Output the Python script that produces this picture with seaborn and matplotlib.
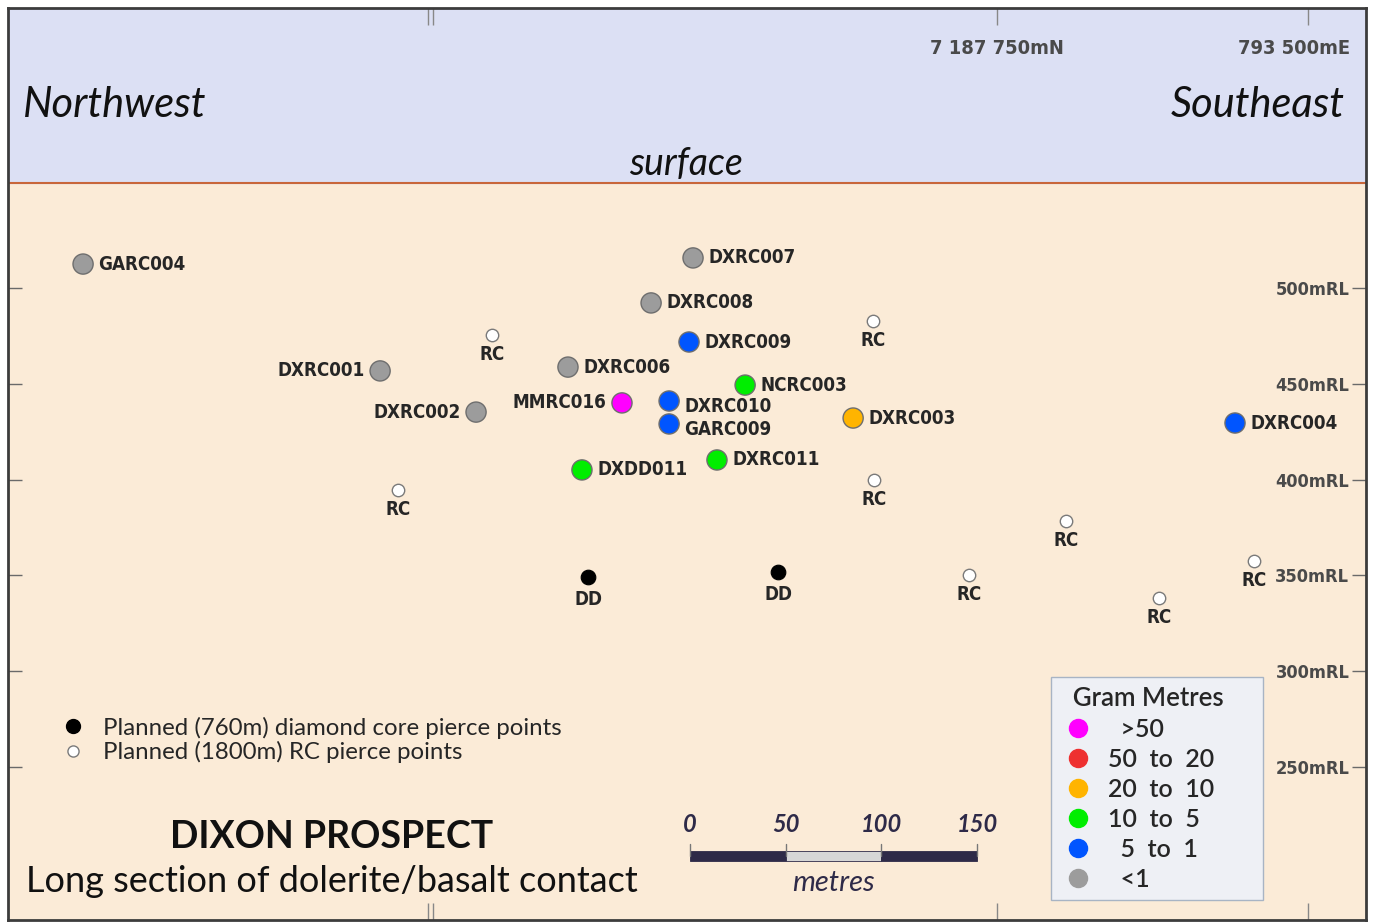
import numpy as np
import pandas as pd
import seaborn as sns
import matplotlib.pyplot as plt
from matplotlib import font_manager
from matplotlib.lines import Line2D

# Drill holes with assay results (metres along section, mRL)
hole_ids = ["GARC004", "DXRC007", "DXRC008", "DXRC009", "DXRC001", "DXRC006",
            "NCRC003", "MMRC016", "DXRC002", "DXRC010", "GARC009", "DXRC003",
            "DXRC004", "DXDD011", "DXRC011"]
hole_x = [39.2, 357.7, 335.8, 355.6, 194.3, 292.4,
          384.9, 320.6, 244.4, 345.2, 345.2, 441.3,
          640.7, 299.7, 370.2]
hole_rl = [512.5, 515.7, 492.2, 471.8, 456.7, 458.7,
           449.3, 440.0, 435.2, 441.0, 429.0, 432.1,
           429.5, 405.0, 410.2]
hole_grade = ["<1", "<1", "<1", "5 to 1", "<1", "<1",
              "10 to 5", ">50", "<1", "5 to 1", "5 to 1", "20 to 10",
              "5 to 1", "10 to 5", "10 to 5"]
left_labels = ["DXRC001", "DXRC002", "MMRC016"]

# Planned pierce points
rc_x = [252.7, 451.7, 203.7, 452.2, 552.5, 501.8, 601.0, 650.7]
rc_rl = [475.5, 482.8, 394.5, 399.7, 378.3, 350.1, 338.1, 357.4]
dd_x = [302.9, 402.1]
dd_rl = [349.1, 351.7]

# Gram metre classes
grade_classes = [">50", "50 to 20", "20 to 10", "10 to 5", "5 to 1", "<1"]
grade_text = ["  >50", "50  to  20", "20  to  10", "10  to  5", "  5  to  1", "  <1"]
grade_colors = ["#ff00ff", "#ee3030", "#ffb400", "#00ee00", "#0055ff", "#9c9c9c"]

rl_ticks = [250, 300, 350, 400, 450, 500]
grid_x = [219.3, 221.9, 516.4, 678.9]
surface_rl = 554.8
scale_steps = [0, 50, 100, 150]

sns.set_theme(style="white")
plt.rcParams["font.family"] = ["Lato", "DejaVu Sans"]

# Pick a narrow face for the hole labels if one is installed
fonts = font_manager.fontManager.ttflist
names = {f.name for f in fonts}
narrow = {"family": "Liberation Sans", "stretch": "normal"}
nscale = 0.83
if "Liberation Sans Narrow" in names:
    narrow = {"family": "Liberation Sans Narrow", "stretch": "normal"}
    nscale = 1.0
elif any(f.name == "DejaVu Sans" and f.stretch == "condensed" for f in fonts):
    narrow = {"family": "DejaVu Sans", "stretch": "condensed"}
    nscale = 0.9
else:
    cands = sorted(n for n in names if "Narrow" in n or "Condensed" in n)
    if cands:
        narrow = {"family": cands[0], "stretch": "normal"}
        nscale = 0.95

fig = plt.figure(figsize=(13.74, 9.23), dpi=100)
ax = fig.add_axes([8 / 1374, 3 / 923, 1358 / 1374, 912 / 923])
ax.set_xlim(0, 709.1)
ax.set_ylim(170, 646.2)
ax.set_facecolor("#fbebd7")

# Sky and surface
ax.axhspan(surface_rl, 646.2, color="#dce0f4", zorder=0)
ax.axhline(surface_rl, color="#c8663a", lw=1.5, zorder=1)

holes = pd.DataFrame({"hole": hole_ids, "x": hole_x, "rl": hole_rl,
                      "grade": hole_grade})
palette = dict(zip(grade_classes, grade_colors))
label_dy = {"DXRC010": -4, "GARC009": -4}

sns.scatterplot(data=holes, x="x", y="rl", hue="grade", palette=palette,
                s=210, edgecolor="#6e6e6e", linewidth=1, legend=False,
                ax=ax, zorder=4)
for _, r in holes.iterrows():
    left = r["hole"] in left_labels
    ax.annotate(r["hole"], (r["x"], r["rl"]),
                xytext=(-11 if left else 11, label_dy.get(r["hole"], 0)),
                textcoords="offset points", ha="right" if left else "left",
                va="center", fontsize=15 * nscale, fontweight="bold",
                **narrow)

sns.scatterplot(x=rc_x, y=rc_rl, s=80, color="white", edgecolor="#7a7a7a",
                linewidth=1, ax=ax, zorder=4)
for x, y in zip(rc_x, rc_rl):
    ax.annotate("RC", (x, y), xytext=(0, -14), textcoords="offset points",
                ha="center", va="center", fontsize=15 * nscale,
                fontweight="bold", **narrow)

sns.scatterplot(x=dd_x, y=dd_rl, s=110, color="black", edgecolor="black",
                ax=ax, zorder=4)
for x, y in zip(dd_x, dd_rl):
    ax.annotate("DD", (x, y), xytext=(0, -16), textcoords="offset points",
                ha="center", va="center", fontsize=15 * nscale,
                fontweight="bold", **narrow)

# Axes frame and ticks
for sp in ax.spines.values():
    sp.set_color("#3c3c3c")
    sp.set_linewidth(2)
ax.set_yticks(rl_ticks)
ax.set_yticklabels([f"{v}mRL" for v in rl_ticks])
ax.tick_params(axis="y", left=True, right=True, direction="in", length=10,
               width=1, color="#6a6a6a", labelleft=False, labelright=True,
               pad=-12, labelsize=14.5 * nscale, labelcolor="#4a4a4a")
for t in ax.yaxis.get_major_ticks():
    t.label2.set_ha("right")
    t.label2.set_family(narrow["family"])
    t.label2.set_stretch(narrow["stretch"])
    t.label2.set_fontweight("bold")
ax.set_xticks(grid_x)
ax.tick_params(axis="x", top=True, bottom=True, direction="in", length=12,
               width=1, color="#888888", labelbottom=False, labeltop=False)
ax.set_xlabel("")
ax.set_ylabel("")

# Grid coordinates
ax.text(516.4, 625.3, "7 187 750mN", ha="center", va="center",
        fontsize=16 * nscale, fontweight="bold", color="#4a4a4a", **narrow)
ax.text(701, 625.3, "793 500mE", ha="right", va="center",
        fontsize=16 * nscale, fontweight="bold", color="#4a4a4a", **narrow)

ax.text(8, 595.5, "Northwest", ha="left", va="center", fontsize=30,
        style="italic", color="#111111")
ax.text(698, 595.5, "Southeast", ha="right", va="center", fontsize=30,
        style="italic", color="#111111")
ax.text(354, 565, "surface", ha="center", va="center", fontsize=27,
        style="italic", color="#111111")

# Titles
ax.text(169, 213.5, "DIXON PROSPECT", ha="center", va="center", fontsize=27,
        fontweight="bold", color="#111111")
ax.text(169, 190, "Long section of dolerite/basalt contact", ha="center",
        va="center", fontsize=26, color="#111111")

# Scale bar
bar_left = 356.1
dark = "#2e2a48"
ax.barh([203.4] * 3, [50, 50, 50],
        left=[bar_left + v for v in scale_steps[:-1]], height=5.2,
        color=[dark, "#d6d6d6", dark], edgecolor=dark, linewidth=0.6,
        zorder=3)
for v in scale_steps:
    ax.plot([bar_left + v, bar_left + v], [203.4, 209.5], color="#777777",
            lw=1, zorder=3)
    ax.text(bar_left + v, 220, str(v), ha="center", va="center",
            fontsize=17, fontweight="bold", style="italic", color=dark)
ax.text(bar_left + 75, 189.5, "metres", ha="center", va="center",
        fontsize=21, style="italic", color=dark)

# Pierce point legend
plan_handles = [
    Line2D([], [], marker="o", ls="", markersize=10, color="black"),
    Line2D([], [], marker="o", ls="", markersize=8, markerfacecolor="white",
           markeredgecolor="#7a7a7a"),
]
leg1 = ax.legend(plan_handles,
                 ["Planned (760m) diamond core pierce points",
                  "Planned (1800m) RC pierce points"],
                 loc="upper left", bbox_to_anchor=(0.039, 0.223),
                 frameon=False, fontsize=17.3, handletextpad=0.75,
                 handlelength=1.0, labelspacing=0.1, borderaxespad=0,
                 borderpad=0)
ax.add_artist(leg1)

# Gram metres legend
grade_handles = [Line2D([], [], marker="o", ls="", markersize=13,
                        markerfacecolor=c, markeredgecolor=c)
                 for c in grade_colors]
leg2 = ax.legend(grade_handles, grade_text, title="  Gram Metres",
                 loc="lower left", bbox_to_anchor=(0.768, 0.022, 0.156, 0.1),
                 mode="expand", borderaxespad=0, fontsize=18,
                 title_fontsize=18.5, labelspacing=0.28, handletextpad=0.45,
                 handlelength=1.5, borderpad=0.35, frameon=True,
                 fancybox=False, alignment="left")
leg2.get_frame().set_facecolor("#eef0f5")
leg2.get_frame().set_edgecolor("#a8b4c4")
leg2.get_frame().set_alpha(1)
leg2.get_title().set_fontweight("semibold")
for t in leg2.get_texts():
    t.set_fontweight("semibold")

fig.savefig("out.png", dpi=100)
